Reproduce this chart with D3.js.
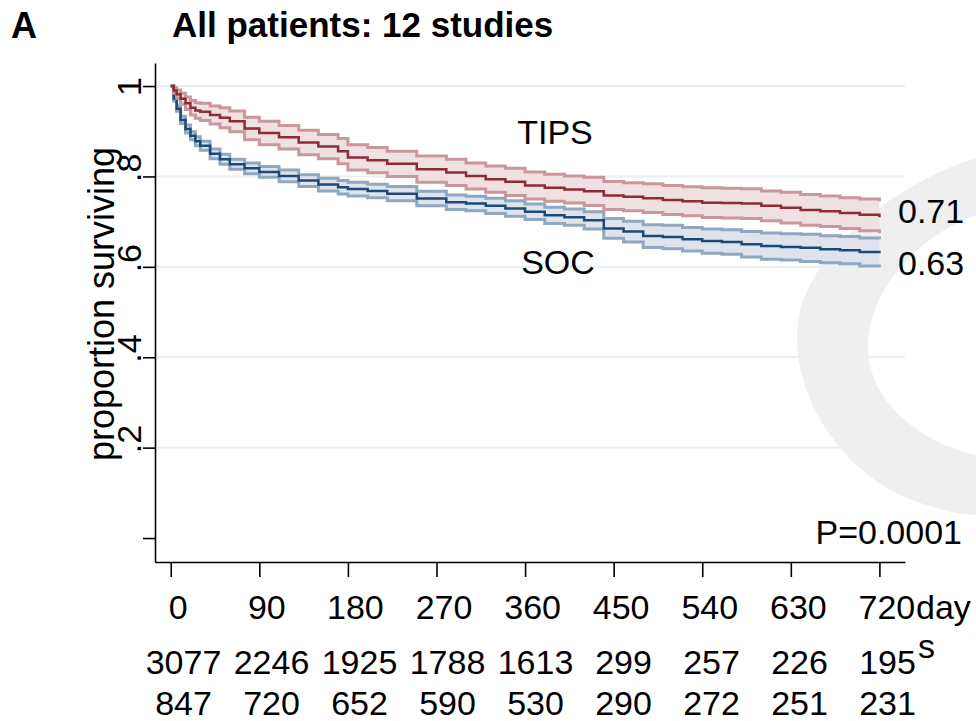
<!DOCTYPE html>
<html>
<head>
<meta charset="utf-8">
<script src="https://cdn.jsdelivr.net/npm/d3@7"></script>
<style>
  body { margin: 0; background: #fff; }
  text { font-family: "Liberation Sans", Arial, sans-serif; }
</style>
</head>
<body>
<div id="chart"></div>
<script>
// follow-up days for the step curves
const TIMES = [0, 3, 6, 10, 15, 20, 25, 30, 40, 50, 60, 75, 90, 110, 130, 150, 170, 180, 200, 220, 250, 280, 300, 320,
               340, 360, 380, 400, 420, 440, 460, 480, 500, 520, 540, 560, 580, 600, 620, 640, 660, 680, 700, 720];

// TIPS
const TIPS_SURV  = [1.0, .990, .982, .972, .962, .952, .946, .943, .936, .930, .922, .906, .896, .887, .875, .866, .856, .842, .836, .828, .816, .809, .801, .794,
                    .788, .780, .775, .771, .767, .758, .755, .752, .748, .745, .742, .741, .740, .735, .731, .726, .723, .719, .715, .710];
const TIPS_UPPER = [1.0, .996, .991, .984, .976, .968, .963, .962, .956, .952, .945, .931, .922, .913, .902, .893, .884, .870, .864, .856, .845, .838, .830, .823,
                    .818, .810, .805, .801, .798, .789, .786, .784, .780, .777, .775, .774, .773, .768, .765, .760, .757, .753, .750, .745];
const TIPS_LOWER = [1.0, .984, .973, .960, .948, .936, .929, .924, .916, .908, .899, .881, .870, .861, .848, .839, .828, .814, .808, .800, .787, .780, .772, .765,
                    .758, .750, .745, .741, .736, .727, .724, .720, .716, .713, .709, .708, .707, .702, .697, .692, .689, .685, .680, .675];

// SOC
const SOC_SURV  = [1.0, .972, .950, .925, .905, .890, .878, .868, .850, .838, .827, .818, .810, .801, .791, .782, .776, .772, .768, .762, .751, .743, .740, .735,
                   .729, .722, .714, .710, .703, .685, .678, .668, .666, .661, .657, .655, .650, .646, .644, .642, .639, .637, .633, .630];
const SOC_UPPER = [1.0, .977, .956, .933, .914, .899, .888, .878, .861, .849, .838, .830, .822, .814, .804, .796, .791, .787, .783, .778, .767, .759, .756, .752,
                   .746, .739, .732, .728, .722, .707, .701, .693, .692, .687, .684, .682, .678, .675, .673, .672, .669, .667, .664, .661];
const SOC_LOWER = [1.0, .967, .944, .917, .896, .881, .868, .858, .839, .827, .816, .806, .798, .788, .778, .768, .761, .757, .753, .746, .735, .727, .724, .718,
                   .712, .705, .696, .692, .684, .663, .655, .643, .640, .635, .630, .628, .622, .617, .615, .612, .609, .607, .602, .599];

const X_TICKS = [0, 90, 180, 270, 360, 450, 540, 630, 720];
const Y_TICKS = [0, .2, .4, .6, .8, 1];
const Y_TICK_LABELS = ["", ".2", ".4", ".6", ".8", "1"];
const RISK_ROW1 = [3077, 2246, 1925, 1788, 1613, 299, 257, 226, 195];
const RISK_ROW2 = [847, 720, 652, 590, 530, 290, 272, 251, 231];

const W = 976, H = 721;
const FS = 34;

const svg = d3.select("#chart")
    .append("svg")
        .attr("width", W)
        .attr("height", H);
svg.append("rect").attr("width", W).attr("height", H).attr("fill", "#fff");

// scales (axis lines run a bit past the data range)
const x = d3.scaleLinear().domain([-16, 746]).range([155, 905]);
const y = d3.scaleLinear().domain([-0.053, 1.051]).range([562, 63]);
const xRisk = d3.scaleLinear().domain([0, 720]).range([183.5, 887.5]);

// WATERMARK
svg.append("path")
    .attr("d", "M 976 158 C 905 180, 820 240, 800 310 C 785 380, 830 460, 900 495 C 930 508, 960 515, 976 515 " +
               "L 976 455 C 915 440, 870 400, 868 350 C 866 290, 920 235, 976 215 Z")
    .attr("fill", "#efefef");

// GRID
svg.append("g")
    .selectAll("line")
    .data(Y_TICKS.filter(d => d > 0))
    .enter().append("line")
        .attr("x1", x(-16)).attr("x2", x(746))
        .attr("y1", d => y(d)).attr("y2", d => y(d))
        .attr("stroke", "#e8f0f2")
        .attr("stroke-width", 2);

// SERIES
const series = [
    { surv: SOC_SURV, lo: SOC_LOWER, hi: SOC_UPPER, line: "#1a4a79", ci: "#8fa7c0", fill: "#dfe4ec" },
    { surv: TIPS_SURV, lo: TIPS_LOWER, hi: TIPS_UPPER, line: "#8f2a37", ci: "#cb969c", fill: "#efe0e2" }
];

series.forEach(s => {
    const pts = TIMES.map((t, i) => ({ t: t, s: s.surv[i], lo: s.lo[i], hi: s.hi[i] }));
    const area = d3.area()
        .x(d => x(d.t)).y0(d => y(d.lo)).y1(d => y(d.hi))
        .curve(d3.curveStepAfter);
    svg.append("path").datum(pts)
        .attr("d", area)
        .attr("fill", s.fill);
});

series.forEach(s => {
    const pts = TIMES.map((t, i) => ({ t: t, s: s.surv[i], lo: s.lo[i], hi: s.hi[i] }));
    ["lo", "hi"].forEach(k => {
        svg.append("path").datum(pts)
            .attr("d", d3.line().x(d => x(d.t)).y(d => y(d[k])).curve(d3.curveStepAfter))
            .attr("fill", "none")
            .attr("stroke", s.ci)
            .attr("stroke-width", 3);
    });
    svg.append("path").datum(pts)
        .attr("d", d3.line().x(d => x(d.t)).y(d => y(d.s)).curve(d3.curveStepAfter))
        .attr("fill", "none")
        .attr("stroke", s.line)
        .attr("stroke-width", 2.5);
});

// Y AXIS
const yAxis = svg.append("g")
    .attr("transform", "translate(155,0)")
    .call(d3.axisLeft(y).tickValues(Y_TICKS).tickSize(12).tickSizeOuter(0)
        .tickFormat((d, i) => Y_TICK_LABELS[i]));
yAxis.select(".domain").attr("stroke", "#000").attr("stroke-width", 1.6);
yAxis.selectAll(".tick line").attr("stroke", "#000").attr("stroke-width", 1.6);
yAxis.selectAll(".tick text")
    .attr("x", 0).attr("dy", 0)
    .attr("fill", "#000")
    .style("font-size", FS + "px")
    .attr("text-anchor", d => d === 1 ? "middle" : "start")
    .attr("transform", d => `translate(-14,${d === 1 ? 0 : 5}) rotate(-90)`);

svg.append("text")
    .attr("transform", "translate(114,304) rotate(-90)")
    .attr("text-anchor", "middle")
    .style("font-size", "36px")
    .text("proportion surviving");

// X AXIS
const xAxis = svg.append("g")
    .attr("transform", "translate(0,562)")
    .call(d3.axisBottom(x).tickValues(X_TICKS).tickSize(15).tickSizeOuter(0));
xAxis.select(".domain").attr("stroke", "#000").attr("stroke-width", 1.6);
xAxis.selectAll(".tick line").attr("stroke", "#000").attr("stroke-width", 1.6);
xAxis.selectAll(".tick text")
    .attr("y", 57).attr("dy", 0).attr("dx", 7)
    .attr("fill", "#000")
    .style("font-size", FS + "px");

svg.append("text").attr("x", 916).attr("y", 619).style("font-size", FS + "px").text("day");
svg.append("text").attr("x", 918).attr("y", 658).style("font-size", FS + "px").text("s");

// NUMBERS AT RISK
[[RISK_ROW1, 674], [RISK_ROW2, 715]].forEach(([row, yy]) => {
    svg.append("g").selectAll("text")
        .data(row)
        .enter().append("text")
            .attr("x", (d, i) => xRisk(X_TICKS[i]))
            .attr("y", yy)
            .attr("text-anchor", "middle")
            .style("font-size", FS + "px")
            .text(d => d);
});

// LABELS
svg.append("text").attr("x", x(352)).attr("y", y(0.872)).style("font-size", FS + "px").text("TIPS");
svg.append("text").attr("x", x(356)).attr("y", y(0.584)).style("font-size", FS + "px").text("SOC");
svg.append("text").attr("x", 898).attr("y", y(0.698)).style("font-size", FS + "px")
    .text(TIPS_SURV[TIPS_SURV.length - 1].toFixed(2));
svg.append("text").attr("x", 898).attr("y", y(0.582)).style("font-size", FS + "px")
    .text(SOC_SURV[SOC_SURV.length - 1].toFixed(2));
svg.append("text").attr("x", 962).attr("y", 544).attr("text-anchor", "end")
    .style("font-size", FS + "px").text("P=0.0001");

// TITLES
svg.append("text").attr("x", 11).attr("y", 38)
    .style("font-size", "36px").style("font-weight", "bold").text("A");
svg.append("text").attr("x", 172).attr("y", 37)
    .style("font-size", "35px").style("font-weight", "bold").text("All patients: 12 studies");
</script>
</body>
</html>
